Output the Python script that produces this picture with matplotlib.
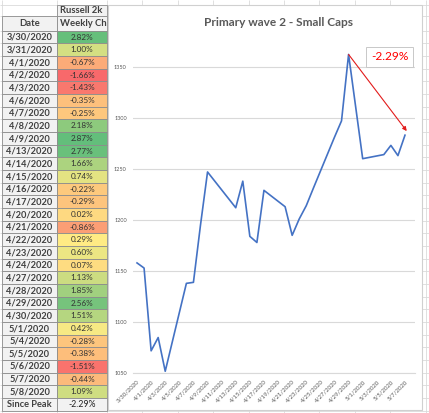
import numpy as np
import matplotlib
matplotlib.use("Agg")
import matplotlib.pyplot as plt
from matplotlib.patches import Rectangle
from datetime import datetime, timedelta

plt.rcParams['font.family'] = ['Lato', 'DejaVu Sans']

# chart series (Russell 2000 close)
chart_dates = ['2020-03-30', '2020-03-31', '2020-04-01', '2020-04-02', '2020-04-03',
               '2020-04-06', '2020-04-07', '2020-04-08', '2020-04-09', '2020-04-13',
               '2020-04-14', '2020-04-15', '2020-04-16', '2020-04-17', '2020-04-20',
               '2020-04-21', '2020-04-22', '2020-04-23', '2020-04-24', '2020-04-27',
               '2020-04-28', '2020-04-29', '2020-04-30', '2020-05-01', '2020-05-04',
               '2020-05-05', '2020-05-06', '2020-05-07']
close = [1158, 1153, 1072, 1085, 1052, 1138, 1139, 1195, 1247, 1212,
         1238, 1184, 1178, 1229, 1213, 1185, 1201, 1214, 1231, 1281,
         1297, 1362, 1311, 1260, 1264, 1273, 1263, 1283]

# table on the left
table_dates = ['3/30/2020', '3/31/2020', '4/1/2020', '4/2/2020', '4/3/2020', '4/6/2020',
               '4/7/2020', '4/8/2020', '4/9/2020', '4/13/2020', '4/14/2020', '4/15/2020',
               '4/16/2020', '4/17/2020', '4/20/2020', '4/21/2020', '4/22/2020', '4/23/2020',
               '4/24/2020', '4/27/2020', '4/28/2020', '4/29/2020', '4/30/2020', '5/1/2020',
               '5/4/2020', '5/5/2020', '5/6/2020', '5/7/2020', '5/8/2020']
weekly = [2.82, 1.00, -0.67, -1.66, -1.43, -0.35, -0.25, 2.18, 2.87, 2.77, 1.66, 0.74,
          -0.22, -0.29, 0.02, -0.86, 0.29, 0.60, 0.07, 1.13, 1.85, 2.56, 1.51, 0.42,
          -0.28, -0.38, -1.51, -0.44, 1.09]
since_peak = -2.29

peak_date, peak_val = '2020-04-29', 1362
arrow_end_date, arrow_end_val = '2020-05-07 06:00', 1287

W, H = 429, 413
fig = plt.figure(figsize=(W / 100, H / 100), dpi=100)

# spreadsheet background
bg = fig.add_axes([0, 0, 1, 1])
bg.set_xlim(0, W)
bg.set_ylim(H, 0)
bg.axis('off')

row_top = 30.7
row_h = 12.66
grid_c = '#DADADA'
rows_y = [5, 16] + [row_top + i * row_h for i in range(32)]
bg.hlines(rows_y, 0, W, color=grid_c, lw=0.6, zorder=1)
cols_x = [2, 57, 107] + [107 + 35.4 * k for k in range(1, 10)]
bg.vlines(cols_x, 0, H, color=grid_c, lw=0.6, zorder=1)


def scale_color(v):
    lo, mid, hi = min(weekly), np.median(weekly), max(weekly)
    red = np.array([248, 105, 107])
    yel = np.array([255, 235, 132])
    grn = np.array([99, 190, 123])
    if v <= mid:
        t = (v - lo) / (mid - lo)
        c = red + (yel - red) * t
    else:
        t = (v - mid) / (hi - mid)
        c = yel + (grn - yel) * t
    return c / 255


edge = '#8C8C8C'
txt_c = '#404040'
# header
bg.add_patch(Rectangle((57, 5), 50, 11, fc='#F2F2F2', ec=edge, lw=0.6, zorder=2))
bg.text(59.5, 10.8, 'Russell 2k', ha='left', va='center', fontsize=6.8,
        fontweight='bold', color=txt_c, zorder=3)
bg.add_patch(Rectangle((2, 16), 55, row_top - 16, fc='#F2F2F2', ec=edge, lw=0.6, zorder=2))
bg.add_patch(Rectangle((57, 16), 50, row_top - 16, fc='#F2F2F2', ec=edge, lw=0.6, zorder=2))
bg.text(29.5, 23.6, 'Date', ha='center', va='center', fontsize=6.8,
        fontweight='bold', color=txt_c, zorder=3)
bg.text(59.5, 23.6, 'Weekly Ch', ha='left', va='center', fontsize=6.8,
        fontweight='bold', color=txt_c, zorder=3)

for i, (d, v) in enumerate(zip(table_dates, weekly)):
    y0 = row_top + i * row_h
    bg.add_patch(Rectangle((2, y0), 55, row_h, fc='#F2F2F2', ec=edge, lw=0.6, zorder=2))
    bg.add_patch(Rectangle((57, y0), 50, row_h, fc=scale_color(v), ec=edge, lw=0.6, zorder=2))
    bg.text(29.5, y0 + row_h / 2 + 0.3, d, ha='center', va='center', fontsize=6.7,
            fontweight='bold', color=txt_c, zorder=3)
    bg.text(82, y0 + row_h / 2 + 0.3, f'{v:.2f}%', ha='center', va='center', fontsize=5.9,
            color='#333333', zorder=3)

y0 = row_top + len(weekly) * row_h
bg.add_patch(Rectangle((2, y0), 55, row_h, fc='#F2F2F2', ec=edge, lw=0.6, zorder=2))
bg.add_patch(Rectangle((57, y0), 50, row_h, fc='#F2F2F2', ec=edge, lw=0.6, zorder=2))
bg.text(29.5, y0 + row_h / 2 + 0.3, 'Since Peak', ha='center', va='center', fontsize=6.7,
        fontweight='bold', color=txt_c, zorder=3)
bg.text(82, y0 + row_h / 2 + 0.3, f'{since_peak:.2f}%', ha='center', va='center',
        fontsize=6.3, color='#222222', zorder=3)

# chart area
bg.add_patch(Rectangle((108, 5), 314, 405, fc='white', ec='#D0D0D0', lw=0.8, zorder=4))

# plot
ax_l, ax_r, ax_b, ax_t = 133, 415, 373.3, 30
ax = fig.add_axes([ax_l / W, (H - ax_b) / H, (ax_r - ax_l) / W, (ax_b - ax_t) / H])
ax.patch.set_alpha(0)

x = [datetime.fromisoformat(d) for d in chart_dates]
ax.plot(x, close, color='#4472C4', lw=1.2, zorder=3)

ax.set_ylim(1050, 1050 + (ax_b - ax_t) / 1.022)
ax.set_yticks(np.arange(1050, 1351, 50))
x0 = x[0]
ax.set_xlim(x0 - timedelta(days=0.57), x[-1] + timedelta(days=1.42))
ticks = [x0 + timedelta(days=2 * k) for k in range(20)]
ax.set_xticks(ticks)
ax.set_xticklabels([f'{d.month}/{d.day}/{d.year}' for d in ticks], rotation=45,
                   ha='right', rotation_mode='anchor', fontsize=4.3, color='#595959')
ax.tick_params(axis='y', labelsize=4.0, labelcolor='#595959', length=0, pad=4.5)
ax.tick_params(axis='x', length=0, pad=4)
ax.yaxis.grid(True, color='#D9D9D9', lw=0.8)
ax.set_axisbelow(True)
for s in ['left', 'right', 'top']:
    ax.spines[s].set_visible(False)
ax.spines['bottom'].set_color('#D9D9D9')
ax.spines['bottom'].set_linewidth(0.8)

ax.annotate('', xy=(datetime.fromisoformat(arrow_end_date), arrow_end_val),
            xytext=(datetime.fromisoformat(peak_date), peak_val),
            arrowprops=dict(arrowstyle='-|>', color='#E21B1B', lw=0.8,
                            mutation_scale=6, shrinkA=0, shrinkB=0))

fig.text(279 / W, 1 - 23 / H, 'Primary wave 2 - Small Caps', ha='center', va='center',
         fontsize=8.6, fontweight='bold', color='#595959')
fig.text(389.5 / W, 1 - 57 / H, '-2.29%', ha='center', va='center', fontsize=8.6,
         color='#FF0000',
         bbox=dict(boxstyle='square,pad=0.4', fc='white', ec='#C8C8C8', lw=0.7))

fig.savefig('out.png', dpi=100)
